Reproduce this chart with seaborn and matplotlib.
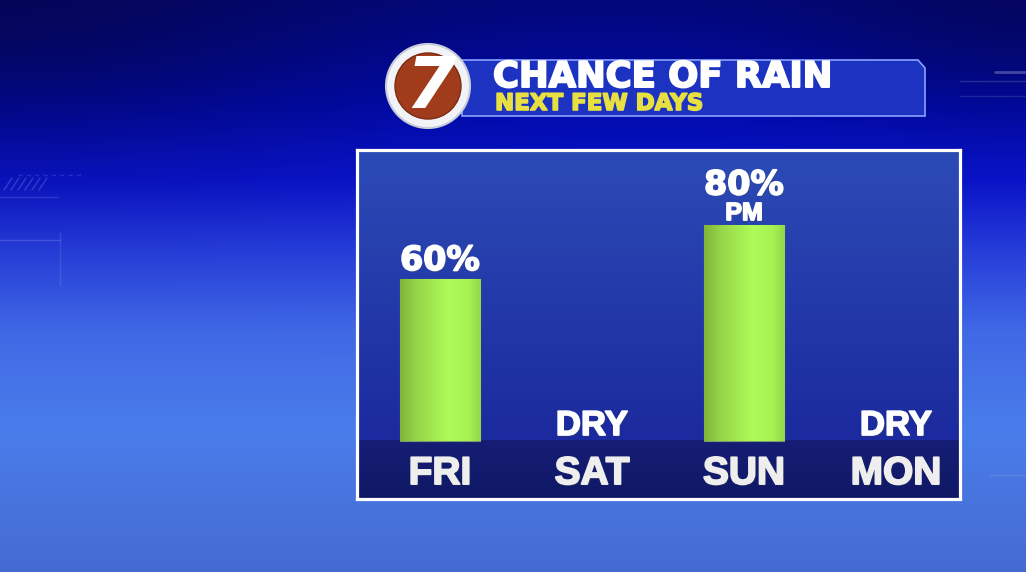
import numpy as np
import pandas as pd
import matplotlib.pyplot as plt
import matplotlib.patheffects as pe
from matplotlib.patches import Circle, Polygon
from matplotlib.colors import LinearSegmentedColormap
import seaborn as sns

days = ['FRI', 'SAT', 'SUN', 'MON']
chance = [60, 0, 80, 0]
notes = ['', '', 'PM', '']
title = 'CHANCE OF RAIN'
subtitle = 'NEXT FEW DAYS'

df = pd.DataFrame({'day': days, 'chance': chance})

sns.set_theme(style='white')
plt.rcParams['font.family'] = ['DejaVu Sans']

W, H = 1026, 572
fig = plt.figure(figsize=(W / 100, H / 100), dpi=100)

# background in pixel coordinates
bg = fig.add_axes([0, 0, 1, 1])
yy, xx = np.mgrid[0:H, 0:W]
stops_y = [0, 100, 180, 250, 330, 430, 572]
stops_c = np.array([[0.01, 0.03, 0.50], [0.00, 0.04, 0.68], [0.04, 0.08, 0.80],
                    [0.15, 0.24, 0.85], [0.25, 0.41, 0.90], [0.29, 0.49, 0.92],
                    [0.27, 0.42, 0.82]])
img = np.stack([np.interp(yy, stops_y, stops_c[:, c]) for c in range(3)], axis=-1)
# darker corners at the top
dark = np.array([0.02, 0.02, 0.30])
wl = 0.75 * np.exp(-((xx / 380.0) ** 2 + (yy / 140.0) ** 2))
wr = 0.6 * np.exp(-(((xx - W) / 250.0) ** 2 + (yy / 110.0) ** 2))
wd = np.clip(wl + wr, 0, 1)[..., None]
img = img * (1 - wd) + dark * wd
bg.imshow(np.clip(img, 0, 1), extent=(0, W, H, 0), aspect='auto', zorder=0)

# faint decoration lines
for k in range(6):
    bg.plot([4 + k * 7, 12 + k * 7], [190, 178], color='white', alpha=0.15, lw=1.2)
bg.plot([18, 85], [175, 175], color='white', alpha=0.12, lw=1, ls=(0, (3, 3)))
bg.plot([0, 58], [197, 197], color='white', alpha=0.12, lw=1)
bg.plot([0, 60], [240, 240], color='white', alpha=0.14, lw=1)
bg.plot([60, 60], [232, 285], color='white', alpha=0.10, lw=1)
bg.plot([960, 1026], [81, 81], color='white', alpha=0.15, lw=1)
bg.plot([960, 1026], [96, 96], color='white', alpha=0.12, lw=1)
bg.plot([995, 1026], [72, 72], color='white', alpha=0.25, lw=2)
bg.plot([990, 1026], [475, 475], color='white', alpha=0.10, lw=1)

# title banner
banner = Polygon([(462, 60), (918, 60), (925, 68), (925, 116), (462, 116)],
                 closed=True, facecolor='#1c33c2', edgecolor='#8aa2ff', lw=1.2, zorder=2)
bg.add_patch(banner)
heavy_w = [pe.Stroke(linewidth=1.4, foreground='white'), pe.Normal()]
heavy_y = [pe.Stroke(linewidth=1.2, foreground='#e8e040'), pe.Normal()]
bg.text(493, 87, title, fontsize=25.5, fontweight='bold', color='white',
        va='baseline', ha='left', zorder=4, path_effects=heavy_w)
bg.text(495, 110, subtitle, fontsize=16.5, fontweight='bold', color='#e8e040',
        va='baseline', ha='left', zorder=4, path_effects=heavy_y)

# station logo
bg.add_patch(Circle((428, 86), 42, facecolor='#f2f3f6', edgecolor='#c8ccd8', lw=1.5, zorder=3))
bg.add_patch(Circle((428, 86), 33, facecolor='#a03c1c', edgecolor='#7a2a12', lw=1, zorder=3))
bg.text(430, 88, '7', fontsize=52, fontweight='bold', fontstyle='italic', color='white',
        ha='center', va='center', zorder=4)

bg.set_xlim(0, W)
bg.set_ylim(H, 0)
bg.axis('off')

# chart panel
ax = fig.add_axes([356.5 / W, 1 - 498.5 / H, 603.5 / W, 349 / H])
xlim = (-0.549, 3.421)
ylim = (-21.3, 108)

panel_cmap = LinearSegmentedColormap.from_list('panel', ['#2c4bb6', '#1b2a9e'])
ax.imshow(np.linspace(0, 1, 100)[:, None], extent=(xlim[0], xlim[1], 0, ylim[1]),
          aspect='auto', cmap=panel_cmap, zorder=0)
band_cmap = LinearSegmentedColormap.from_list('band', ['#151e74', '#101866'])
ax.imshow(np.linspace(0, 1, 50)[:, None], extent=(xlim[0], xlim[1], ylim[0], 0),
          aspect='auto', cmap=band_cmap, zorder=1)

sns.barplot(data=df, x='day', y='chance', color='#a8f050', width=0.53, ax=ax,
            edgecolor='#7d9a6a', linewidth=0.8, zorder=2)

green = LinearSegmentedColormap.from_list(
    'green', [(0, '#80b43a'), (0.2, '#96d448'), (0.6, '#aefc58'), (0.85, '#a6f252'), (1, '#92d84a')])
for p in ax.containers[0]:
    h = p.get_height()
    if h > 0:
        x0 = p.get_x()
        im = ax.imshow(np.linspace(0, 1, 100)[None, :], extent=(x0, x0 + p.get_width(), 0, h),
                       aspect='auto', cmap=green, zorder=3)
        im.set_clip_path(p)
    else:
        p.set_linewidth(0)

shadow = pe.withSimplePatchShadow(offset=(1, -1), alpha=0.35)
fx = [shadow, pe.Stroke(linewidth=1.2, foreground='white'), pe.Normal()]
fx_day = [shadow, pe.Stroke(linewidth=1.3, foreground='#eeeeee'), pe.Normal()]
for i, (d, v, n) in enumerate(zip(days, chance, notes)):
    ax.annotate(d, (i, 0), xytext=(0, -31), textcoords='offset points', ha='center',
                va='baseline', fontsize=28, fontweight='bold', family='Liberation Sans',
                color='#eeeeee', path_effects=fx_day, zorder=5)
    if v == 0:
        ax.annotate('DRY', (i, 0), xytext=(0, 4.3), textcoords='offset points', ha='center',
                    va='baseline', fontsize=25, fontweight='bold', family='Liberation Sans',
                    color='white', path_effects=fx, zorder=5)
    elif n:
        ax.annotate(n, (i, v), xytext=(0, 3.6), textcoords='offset points', ha='center',
                    va='baseline', fontsize=18, fontweight='bold', family='Liberation Sans',
                    color='white', path_effects=fx, zorder=5)
        ax.annotate(f'{v}%', (i, v), xytext=(0, 22), textcoords='offset points', ha='center',
                    va='baseline', fontsize=24, fontweight='bold', color='white',
                    path_effects=fx, zorder=5)
    else:
        ax.annotate(f'{v}%', (i, v), xytext=(0, 6.5), textcoords='offset points', ha='center',
                    va='baseline', fontsize=24, fontweight='bold', color='white',
                    path_effects=fx, zorder=5)

ax.set_xlim(*xlim)
ax.set_ylim(*ylim)
ax.set_xticks([])
ax.set_yticks([])
ax.set_xlabel('')
ax.set_ylabel('')
for s in ax.spines.values():
    s.set_visible(True)
    s.set_color('white')
    s.set_linewidth(2.3)

fig.savefig('out.png', dpi=100)
